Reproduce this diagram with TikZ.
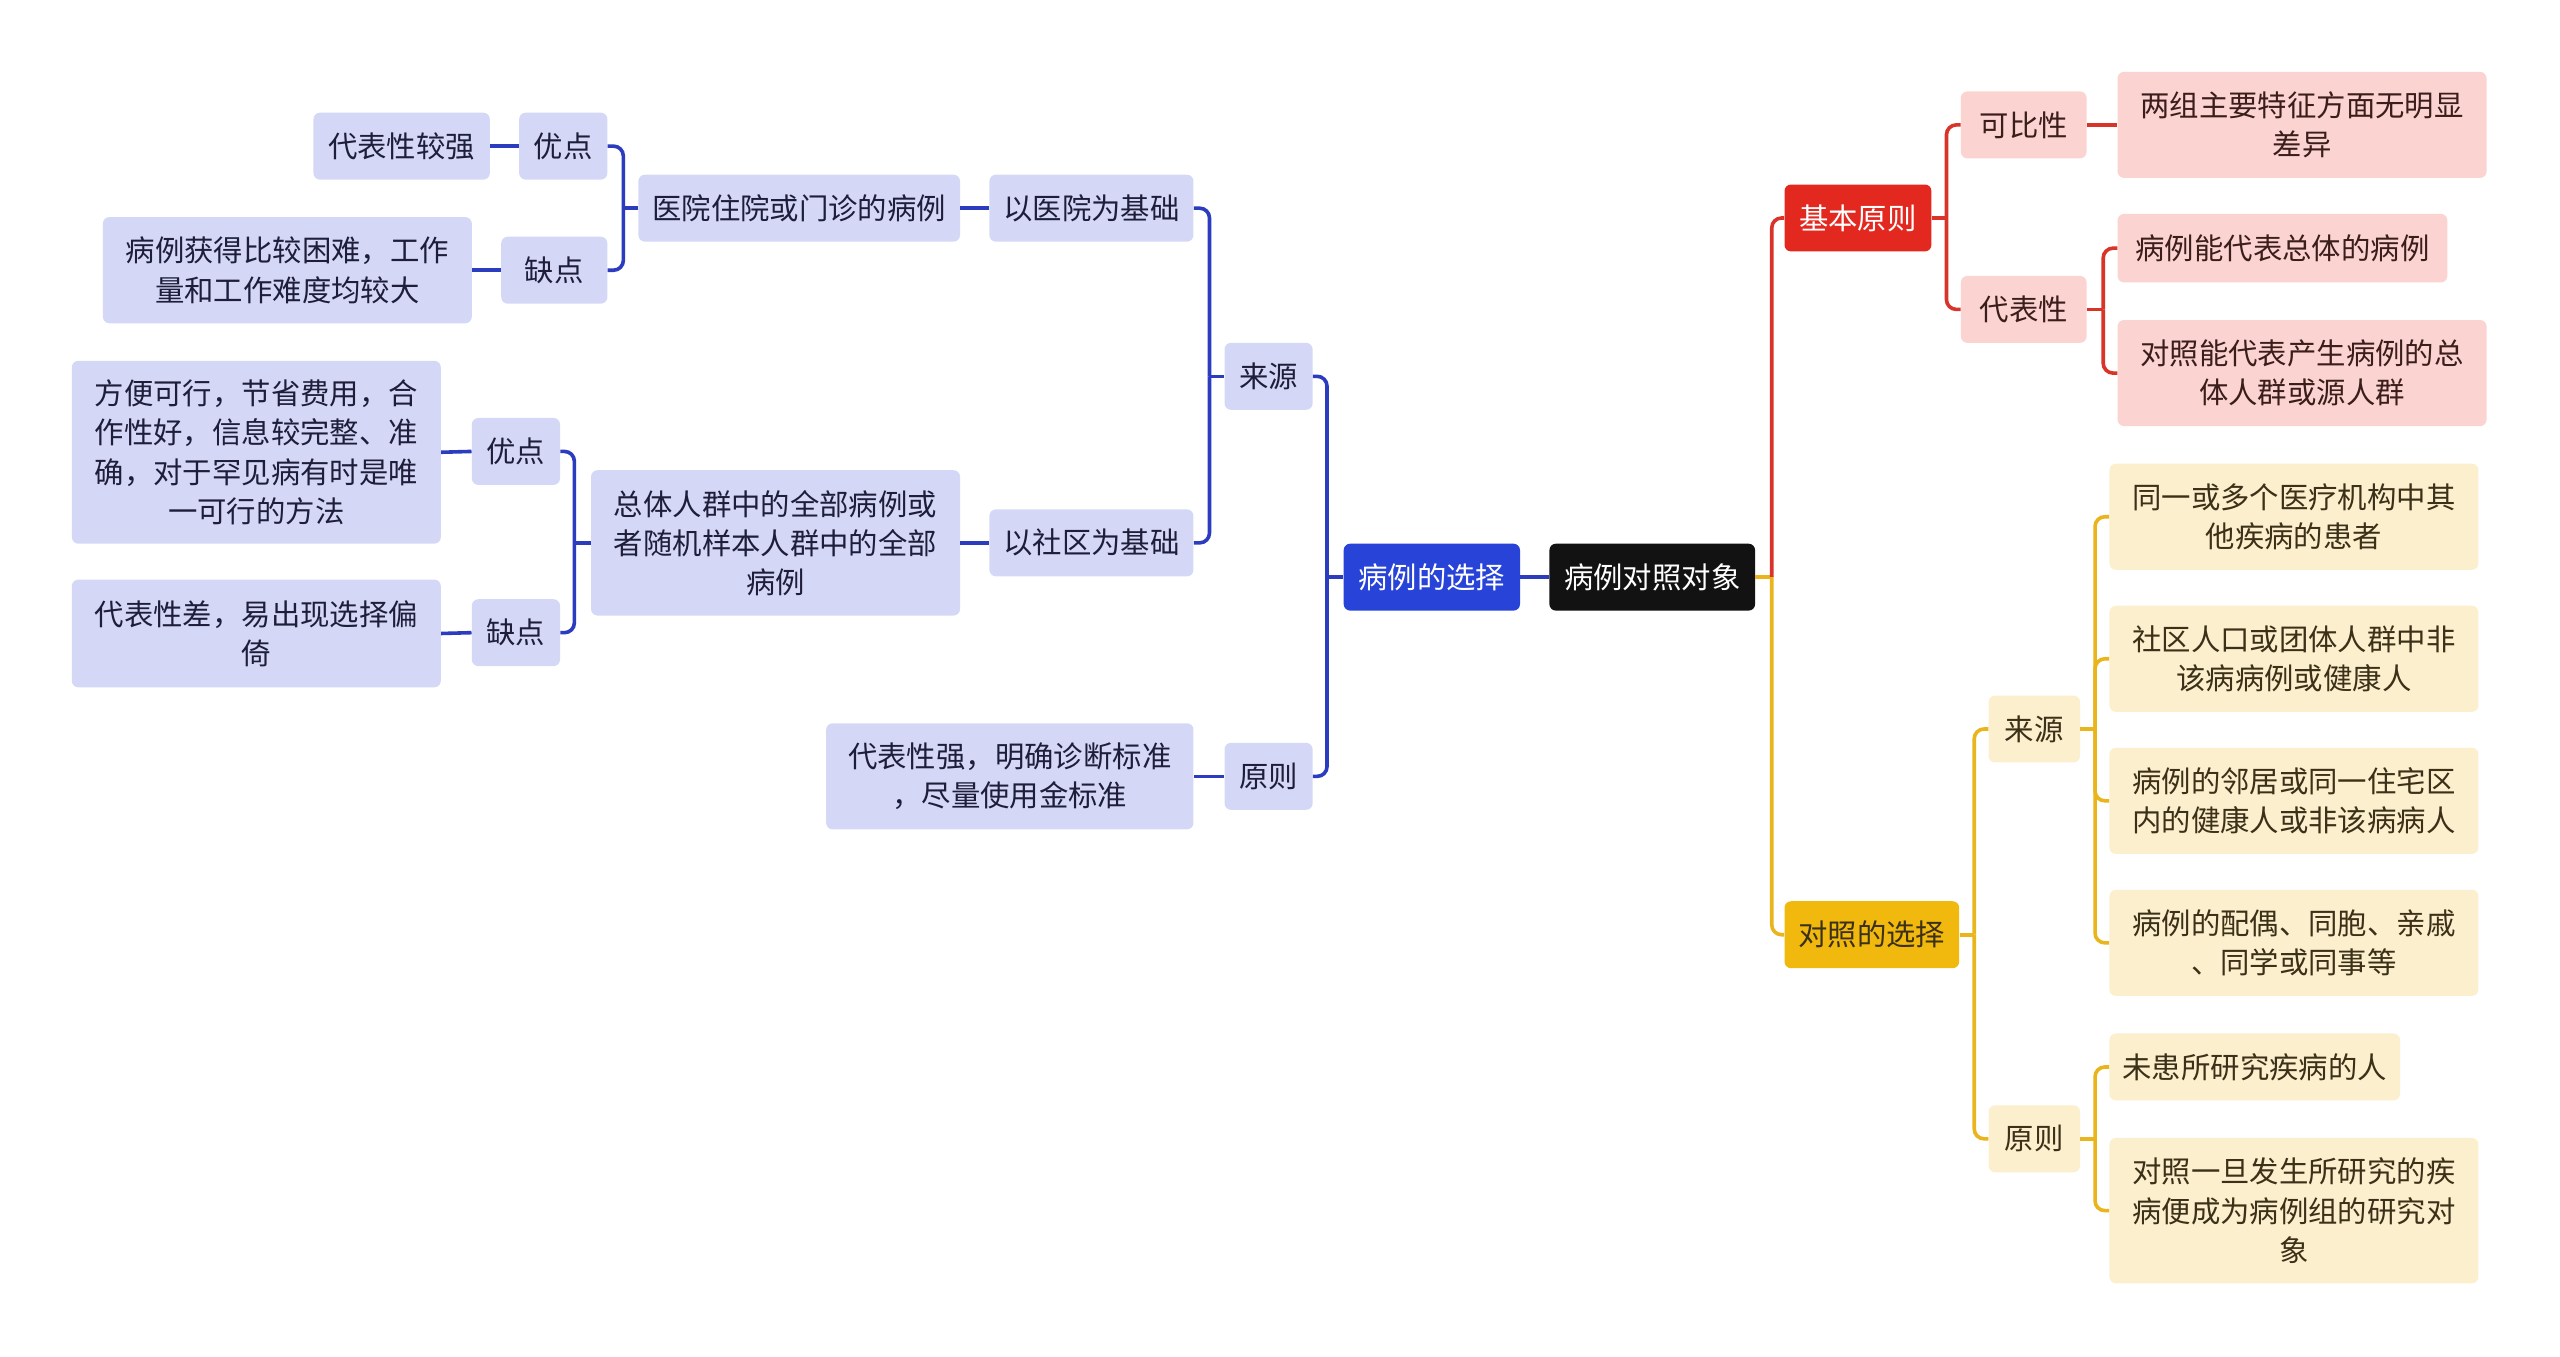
\documentclass[tikz,border=0pt]{standalone}
\usepackage{fontspec}
\setmainfont{Noto Sans CJK SC}
\usetikzlibrary{calc}
\definecolor{rootc}{HTML}{121212}
\definecolor{bluec}{HTML}{2743D8}
\definecolor{lineb}{HTML}{2B3CBE}
\definecolor{lav}{HTML}{D4D8F6}
\definecolor{txtb}{HTML}{1E1E3A}
\definecolor{redc}{HTML}{E3281F}
\definecolor{pinkc}{HTML}{FBD4D1}
\definecolor{liner}{HTML}{D8342A}
\definecolor{txtr}{HTML}{3B1D1A}
\definecolor{yelc}{HTML}{F1B80E}
\definecolor{cream}{HTML}{FCEFCD}
\definecolor{liney}{HTML}{E9B41C}
\definecolor{txty}{HTML}{3B3018}
\tikzset{
  box/.style={rounded corners=4pt, inner sep=0pt, align=center, font=\fontsize{18}{24}\selectfont},
  rootbox/.style={box, fill=rootc, text=white},
  bluebox/.style={box, fill=bluec, text=white},
  lavbox/.style={box, fill=lav, text=txtb},
  redbox/.style={box, fill=redc, text=white},
  pinkbox/.style={box, fill=pinkc, text=txtr},
  yelbox/.style={box, fill=yelc, text=txty},
  creambox/.style={box, fill=cream, text=txty},
  conn/.style={line width=2.2pt, rounded corners=6pt},
  lb/.style={conn, draw=lineb},
  lr/.style={conn, draw=liner},
  ly/.style={conn, draw=liney},
}
\newcommand{\bx}[7]{\node[#1, minimum width={#4-#2}, minimum height={#5-#3}] (#6) at ({(#2+#4)/2},{(#3+#5)/2}) {#7};}
\begin{document}
\begin{tikzpicture}[x=1pt,y=-1pt]
\fill[white] (0,0) rectangle (1568,831);
\useasboundingbox (0,0) rectangle (1568,831);
% center
\bx{rootbox}{949}{333}{1075}{374}{root}{病例对照对象}
\bx{bluebox}{823}{333}{931}{374}{sel}{病例的选择}
\bx{redbox}{1093}{113}{1183}{154}{basic}{基本原则}
\bx{yelbox}{1093}{552}{1200}{593}{ctrl}{对照的选择}
% left
\bx{lavbox}{750}{210}{804}{251}{lsrc}{来源}
\bx{lavbox}{750}{455}{804}{496}{lpri}{原则}
\bx{lavbox}{606}{107}{731}{148}{hosp}{以医院为基础}
\bx{lavbox}{606}{312}{731}{353}{comm}{以社区为基础}
\bx{lavbox}{506}{443}{731}{508}{std}{代表性强，明确诊断标准\\，尽量使用金标准}
\bx{lavbox}{391}{107}{588}{148}{hcase}{医院住院或门诊的病例}
\bx{lavbox}{362}{288}{588}{377}{pcase}{总体人群中的全部病例或\\者随机样本人群中的全部\\病例}
\bx{lavbox}{318}{69}{372}{110}{adva}{优点}
\bx{lavbox}{307}{145}{372}{186}{disa}{缺点}
\bx{lavbox}{289}{256}{343}{297}{advb}{优点}
\bx{lavbox}{289}{367}{343}{408}{disb}{缺点}
\bx{lavbox}{192}{69}{300}{110}{advat}{代表性较强}
\bx{lavbox}{63}{133}{289}{198}{disat}{病例获得比较困难，工作\\量和工作难度均较大}
\bx{lavbox}{44}{221}{270}{333}{advbt}{方便可行，节省费用，合\\作性好，信息较完整、准\\确，对于罕见病有时是唯\\一可行的方法}
\bx{lavbox}{44}{355}{270}{421}{disbt}{代表性差，易出现选择偏\\倚}
% right red
\bx{pinkbox}{1201}{56}{1278}{97}{comp}{可比性}
\bx{pinkbox}{1201}{169}{1278}{210}{rep}{代表性}
\bx{pinkbox}{1297}{44}{1523}{109}{compt}{两组主要特征方面无明显\\差异}
\bx{pinkbox}{1297}{131}{1499}{173}{repa}{病例能代表总体的病例}
\bx{pinkbox}{1297}{196}{1523}{261}{repb}{对照能代表产生病例的总\\体人群或源人群}
% right yellow
\bx{creambox}{1218}{426}{1274}{467}{csrc}{来源}
\bx{creambox}{1218}{677}{1274}{718}{cpri}{原则}
\bx{creambox}{1292}{284}{1518}{349}{sa}{同一或多个医疗机构中其\\他疾病的患者}
\bx{creambox}{1292}{371}{1518}{436}{sb}{社区人口或团体人群中非\\该病病例或健康人}
\bx{creambox}{1292}{458}{1518}{523}{sc}{病例的邻居或同一住宅区\\内的健康人或非该病病人}
\bx{creambox}{1292}{545}{1518}{610}{sd}{病例的配偶、同胞、亲戚\\、同学或同事等}
\bx{creambox}{1292}{633}{1470}{674}{pa}{未患所研究疾病的人}
\bx{creambox}{1292}{697}{1518}{786}{pb}{对照一旦发生所研究的疾\\病便成为病例组的研究对\\象}
% junction points
\coordinate (j1) at ($(sel.west)+(-10,0)$);
\coordinate (j2) at ($(lsrc.west)+(-9,0)$);
\coordinate (j3) at ($(hcase.west)+(-9,0)$);
\coordinate (j4) at ($(pcase.west)+(-10,0)$);
\coordinate (j5) at ($(root.east)+(10,0)$);
\coordinate (j6) at ($(basic.east)+(9,0)$);
\coordinate (j7) at ($(rep.east)+(10,0)$);
\coordinate (j8) at ($(ctrl.east)+(9,0)$);
\coordinate (j9) at ($(csrc.east)+(9,0)$);
\coordinate (j10) at ($(cpri.east)+(9,0)$);
% left connectors
\draw[lb] (root.west) -- (sel.east);
\draw[lb] (sel.west) -- (j1);
\draw[lb] (j1) |- (lsrc.east);
\draw[lb] (j1) |- (lpri.east);
\draw[lb] (lsrc.west) -- (j2);
\draw[lb] (j2) |- (hosp.east);
\draw[lb] (j2) |- (comm.east);
\draw[lb] (lpri.west) -- (std.east);
\draw[lb] (hosp.west) -- (hcase.east);
\draw[lb] (comm.west) -- (pcase.east);
\draw[lb] (hcase.west) -- (j3);
\draw[lb] (j3) |- (adva.east);
\draw[lb] (j3) |- (disa.east);
\draw[lb] (pcase.west) -- (j4);
\draw[lb] (j4) |- (advb.east);
\draw[lb] (j4) |- (disb.east);
\draw[lb] (adva.west) -- (advat.east);
\draw[lb] (disa.west) -- (disat.east);
\draw[lb] (advb.west) -- (advbt.east);
\draw[lb] (disb.west) -- (disbt.east);
% right connectors
\draw[ly] (root.east) -- (j5);
\draw[lr] (j5) |- (basic.west);
\draw[ly] (j5) |- (ctrl.west);
\draw[lr] (basic.east) -- (j6);
\draw[lr] (j6) |- (comp.west);
\draw[lr] (j6) |- (rep.west);
\draw[lr] (comp.east) -- (compt.west);
\draw[lr] (rep.east) -- (j7);
\draw[lr] (j7) |- (repa.west);
\draw[lr] (j7) |- (repb.west);
\draw[ly] (ctrl.east) -- (j8);
\draw[ly] (j8) |- (csrc.west);
\draw[ly] (j8) |- (cpri.west);
\draw[ly] (csrc.east) -- (j9);
\draw[ly] (j9) |- (sa.west);
\draw[ly] (j9) |- (sb.west);
\draw[ly] (j9) |- (sc.west);
\draw[ly] (j9) |- (sd.west);
\draw[ly] (cpri.east) -- (j10);
\draw[ly] (j10) |- (pa.west);
\draw[ly] (j10) |- (pb.west);
\end{tikzpicture}
\end{document}
